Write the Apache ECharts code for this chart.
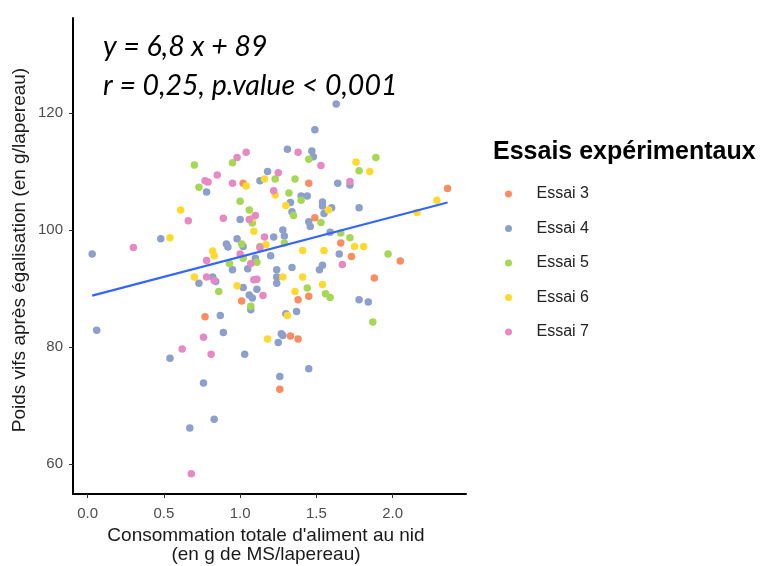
<!DOCTYPE html>
<html>
<head>
<meta charset="utf-8">
<script src="https://cdn.jsdelivr.net/npm/echarts@6/dist/echarts.min.js"></script>
<style>
  html, body { margin: 0; padding: 0; background: #ffffff; }
  #chart { width: 763px; height: 566px; }
</style>
</head>
<body>
<div id="chart"></div>
<script>
// ---------- data ----------
const seriesNames = ['Essai 3', 'Essai 4', 'Essai 5', 'Essai 6', 'Essai 7'];
const xTicks = [0, 0.5, 1.0, 1.5, 2.0];
const yTicks = [60, 80, 100, 120];

const essai3 = [[1.02,108.0],[1.45,108.0],[1.49,102.1],[1.66,97.8],[1.73,95.5],[2.05,94.7],[1.88,91.8],[1.38,88.1],[1.45,88.7],[1.01,87.9],[0.77,85.2],[1.33,81.9],[1.38,81.4],[1.26,72.8],[2.36,107.1]];

const essai4 = [[0.03,95.9],[0.06,82.9],[0.48,98.5],[0.54,78.1],[0.67,66.2],[0.83,67.7],[0.76,73.9],[0.89,82.5],[0.87,85.4],[1.03,78.8],[0.78,106.5],[1.00,101.8],[0.98,98.5],[0.91,97.6],[0.92,97.1],[1.02,97.2],[0.95,93.2],[1.05,93.4],[1.10,95.2],[0.73,90.9],[0.82,92.0],[0.84,91.2],[1.02,90.2],[1.06,88.9],[1.08,88.4],[1.07,86.4],[1.11,89.9],[1.13,108.4],[1.18,110.0],[1.31,113.8],[1.47,113.5],[1.48,112.5],[1.49,117.1],[1.63,121.5],[1.64,108.0],[1.72,107.7],[1.40,105.8],[1.44,105.8],[1.33,104.7],[1.54,104.8],[1.54,104.1],[1.60,103.8],[1.34,103.1],[1.55,102.8],[1.45,101.4],[1.46,100.6],[1.78,103.8],[1.22,98.8],[1.28,100.0],[1.29,99.0],[1.59,99.6],[1.20,95.6],[1.65,95.9],[1.34,93.6],[1.54,94.0],[1.52,93.2],[1.24,93.2],[1.24,92.0],[1.24,90.9],[1.30,85.7],[1.37,86.1],[1.78,88.1],[1.84,87.7],[1.27,82.3],[1.28,82.0],[1.25,80.8],[1.45,76.3],[1.26,75.0]];

const essai5 = [[0.70,111.1],[0.95,111.5],[0.73,107.3],[1.00,104.9],[1.06,103.4],[1.08,101.2],[1.01,97.6],[1.02,95.2],[0.93,94.3],[0.86,89.5],[1.07,87.0],[1.45,112.1],[1.23,108.7],[1.36,108.7],[1.32,106.3],[1.40,105.1],[1.35,102.5],[1.53,101.3],[1.66,99.5],[1.72,98.7],[1.89,112.4],[1.78,110.1],[1.97,95.9],[1.44,90.1],[1.56,89.1],[1.59,88.5],[1.87,84.3],[1.13,97.2],[1.11,94.5],[1.29,97.8]];

const essai6 = [[0.61,103.4],[0.54,98.7],[1.04,107.5],[1.16,108.7],[1.08,102.0],[1.09,99.8],[0.82,96.4],[0.83,95.6],[0.70,92.0],[0.98,90.5],[1.17,97.5],[1.18,81.4],[1.76,111.6],[1.85,110.0],[1.23,106.0],[1.30,104.2],[1.58,103.4],[1.41,96.5],[1.55,96.5],[1.75,97.2],[1.81,97.2],[1.28,92.0],[1.41,92.0],[1.54,90.7],[1.36,89.5],[1.31,85.4],[2.29,105.1],[2.16,103.0]];

const essai7 = [[0.30,97.0],[0.62,79.7],[0.76,81.7],[0.81,78.8],[0.68,58.4],[0.98,112.4],[1.04,113.3],[0.85,109.4],[0.77,108.4],[0.79,108.2],[0.95,108.0],[0.66,101.6],[0.89,102.0],[1.10,102.5],[1.06,101.8],[0.78,94.8],[1.00,95.9],[1.07,94.3],[0.78,92.0],[0.83,91.4],[1.09,91.5],[1.11,91.6],[1.15,88.8],[1.38,113.3],[1.53,111.0],[1.25,109.8],[1.22,106.7],[1.16,98.8],[1.67,94.1],[1.72,108.3],[1.13,97.0]];

// regression line end points
const fitLine = [[0.03, 88.8], [2.36, 104.7]];

// ---------- styles ----------
const colors = ['#FC8D62', '#8DA0CB', '#A6D854', '#FFD92F', '#E78AC3'];
const allData = [essai3, essai4, essai5, essai6, essai7];
const baseFont = 'Liberation Sans, Arial, sans-serif';

const chart = echarts.init(document.getElementById('chart'), null, { renderer: 'canvas' });

const scatterSeries = seriesNames.map((name, i) => ({
  name: name,
  type: 'scatter',
  data: allData[i],
  symbol: 'circle',
  symbolSize: 7.5,
  itemStyle: { color: colors[i], opacity: 1 },
  emphasis: { disabled: true },
  z: 2
}));

const option = {
  animation: false,
  backgroundColor: '#ffffff',
  grid: { left: 73, right: 297, top: 18, bottom: 72 },
  xAxis: {
    type: 'value',
    min: -0.0957,
    max: 2.481,
    splitLine: { show: false },
    axisLine: { show: true, onZero: false, lineStyle: { color: '#000', width: 2 } },
    axisTick: { show: true, length: 4, customValues: xTicks, lineStyle: { color: '#333', width: 1 } },
    axisLabel: {
      customValues: xTicks,
      formatter: v => v.toFixed(1),
      color: '#4d4d4d', fontSize: 15, fontFamily: baseFont, margin: 12
    }
  },
  yAxis: {
    type: 'value',
    min: 54.93,
    max: 136.2,
    splitLine: { show: false },
    axisLine: { show: true, onZero: false, lineStyle: { color: '#000', width: 2 } },
    axisTick: { show: true, length: 4, customValues: yTicks, lineStyle: { color: '#333', width: 1 } },
    axisLabel: {
      customValues: yTicks,
      color: '#4d4d4d', fontSize: 15, fontFamily: baseFont, margin: 10
    }
  },
  legend: {
    data: seriesNames,
    orient: 'vertical',
    left: 500,
    top: 180,
    itemWidth: 46,
    itemHeight: 7,
    itemGap: 16.5,
    icon: 'circle',
    textStyle: { color: '#222', fontSize: 16, fontFamily: baseFont, lineHeight: 18 }
  },
  graphic: [
    { type: 'text', x: 103, y: 47, style: { text: 'y = 6,8 x + 89', font: 'italic 28.5px Lato', fill: '#000', verticalAlign: 'middle' } },
    { type: 'text', x: 103, y: 86, style: { text: 'r = 0,25, p.value < 0,001', font: 'italic 28.5px Lato', fill: '#000', verticalAlign: 'middle' } },
    { type: 'text', x: 20, y: 250, rotation: Math.PI / 2, style: { text: 'Poids vifs après égalisation (en g/lapereau)', font: '19px ' + baseFont, fill: '#1a1a1a', align: 'center', verticalAlign: 'middle' } },
    { type: 'text', x: 266, y: 536, style: { text: "Consommation totale d'aliment au nid", font: '19px ' + baseFont, fill: '#1a1a1a', align: 'center', verticalAlign: 'middle' } },
    { type: 'text', x: 266, y: 555, style: { text: '(en g de MS/lapereau)', font: '19px ' + baseFont, fill: '#1a1a1a', align: 'center', verticalAlign: 'middle' } },
    { type: 'text', x: 493, y: 152, style: { text: 'Essais expérimentaux', font: 'bold 25px ' + baseFont, fill: '#000', verticalAlign: 'middle' } }
  ],
  series: scatterSeries.concat([{
    name: 'fit',
    type: 'line',
    data: fitLine,
    showSymbol: false,
    symbol: 'none',
    lineStyle: { color: '#3366FF', width: 2.2 },
    emphasis: { disabled: true },
    z: 3
  }])
};

chart.setOption(option);
</script>
</body>
</html>
